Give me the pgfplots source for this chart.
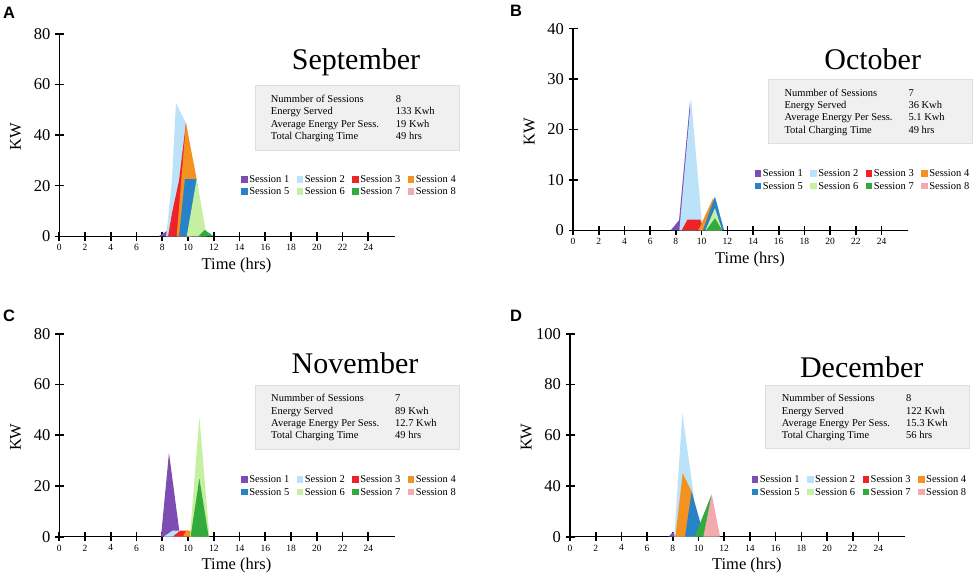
\documentclass[border=0pt]{standalone}
\usepackage{pgfplots}
\pgfplotsset{compat=1.18}
\usepackage{fontspec}
\setmainfont{Liberation Serif}
\newfontfamily\sansfont{Liberation Sans}
\definecolor{s1}{RGB}{124,77,178}
\definecolor{s2}{RGB}{187,226,248}
\definecolor{s3}{RGB}{236,36,42}
\definecolor{s4}{RGB}{245,145,30}
\definecolor{s5}{RGB}{40,130,200}
\definecolor{s6}{RGB}{196,240,160}
\definecolor{s7}{RGB}{50,170,60}
\definecolor{s8}{RGB}{242,170,175}
\definecolor{boxgray}{RGB}{240,240,240}
\definecolor{boxline}{RGB}{222,222,222}
\newcommand\statfont{\fontsize{10.5}{12.3}\selectfont}
\pgfplotsset{
  panel/.style={
    scale only axis, width=335.6pt, height=202.6pt,
    xmin=0, xmax=26.07, ymin=0,
    axis lines*=left,
    axis line style={line width=1.2pt, black},
    xtick={0,2,...,24},
    tick align=center,
    tickwidth=9pt,
    major tick length=9pt,
    xtick style={line width=1.6pt, black},
    ytick style={line width=1.6pt, black},
    xtick pos=left, ytick pos=left,
    /pgf/number format/assume math mode=true,
    xticklabel style={font=\fontsize{9.5}{10}\selectfont},
    yticklabel style={font=\fontsize{16.5}{17}\selectfont, xshift=-1pt},
    xlabel={Time (hrs)}, ylabel={KW},
    label style={font=\fontsize{16.5}{18}\selectfont},
    xlabel style={at={(axis description cs:0.528,-0.143)}, anchor=center},
    ylabel style={at={(axis description cs:-0.13,0.49)}, anchor=center},
    legend columns=4,
    legend cell align=left,
    legend style={at={(axis description cs:0.542,0.307)}, anchor=north west,
      draw=none, fill=none, inner sep=0pt,
      font=\fontsize{10.5}{10.5}\selectfont,
      nodes={inner sep=1pt},
      /tikz/every odd column/.append style={column sep=0.5pt},
      /tikz/every even column/.append style={column sep=6.5pt},
      row sep=2pt},
    legend image code/.code={\fill[##1] (0pt,-3pt) rectangle (6.5pt,3.5pt);},
    no markers,
  }
}
\begin{document}
\begin{tikzpicture}
\useasboundingbox (0,0) rectangle (976pt,579pt);

% ---------------- A: September
\begin{axis}[panel, at={(59.3pt,342.7pt)}, anchor=south west,
  ymax=80, ytick={0,20,...,80}]
\addplot[fill=s1, draw=none] coordinates {(7.7,0) (8.5,2.5) (8.9,0)};
\addlegendentry{Session 1}
\addplot[fill=s2, draw=none] coordinates {(8.3,0) (8.75,22) (9.06,52.7) (9.85,44.6) (10.3,0)};
\addlegendentry{Session 2}
\addplot[fill=s3, draw=none] coordinates {(8.45,0) (8.75,9) (9.3,22) (9.84,44.8) (10.2,0)};
\addlegendentry{Session 3}
\addplot[fill=s4, draw=none] coordinates {(9.12,0) (9.84,44.8) (10.67,22.6) (11.0,0)};
\addlegendentry{Session 4}
\addplot[fill=s5, draw=none] coordinates {(9.3,0) (9.76,22.6) (10.67,22.6) (11.0,0)};
\addlegendentry{Session 5}
\addplot[fill=s6, draw=none] coordinates {(9.9,0) (10.67,22.6) (11.45,0)};
\addlegendentry{Session 6}
\addplot[fill=s7, draw=none] coordinates {(10.8,0) (11.3,2.5) (12.0,0)};
\addlegendentry{Session 7}
\addlegendimage{fill=s8, draw=none}
\addlegendentry{Session 8}
\end{axis}

% ---------------- B: October
\begin{axis}[panel, at={(573pt,348.7pt)}, anchor=south west, width=335.2pt, height=201.6pt,
  ymax=40, ytick={0,10,...,40}]
\addplot[fill=s1, draw=none] coordinates {(7.6,0) (8.25,2) (9.1,25.5) (9.5,0)};
\addlegendentry{Session 1}
\addplot[fill=s2, draw=none] coordinates {(8.27,0) (9.18,26.2) (10.08,0)};
\addlegendentry{Session 2}
\addplot[fill=s3, draw=none] coordinates {(8.45,0) (8.9,2.1) (9.9,2.1) (10.2,0)};
\addlegendentry{Session 3}
\addplot[fill=s4, draw=none] coordinates {(9.75,0) (10.9,6.4) (11.4,0)};
\addlegendentry{Session 4}
\addplot[fill=s5, draw=none] coordinates {(10.1,0) (11.04,6.7) (11.75,0)};
\addlegendentry{Session 5}
\addplot[fill=s6, draw=none] coordinates {(10.3,0) (11.04,4.4) (11.6,0)};
\addlegendentry{Session 6}
\addplot[fill=s7, draw=none] coordinates {(10.35,0) (11.04,2.4) (11.6,0)};
\addlegendentry{Session 7}
\addlegendimage{fill=s8, draw=none}
\addlegendentry{Session 8}
\end{axis}

% ---------------- C: November
\begin{axis}[panel, at={(59.3pt,42.3pt)}, anchor=south west, height=203pt,
  ymax=80, ytick={0,20,...,80}]
\addplot[fill=s1, draw=none] coordinates {(7.9,0) (8.52,33.1) (9.38,0)};
\addlegendentry{Session 1}
\addplot[fill=s2, draw=none] coordinates {(8.1,0) (8.8,2.4) (9.3,2.4) (9.6,0)};
\addlegendentry{Session 2}
\addplot[fill=s3, draw=none] coordinates {(8.8,0) (9.4,2.4) (10.0,2.4) (10.25,0)};
\addlegendentry{Session 3}
\addplot[fill=s4, draw=none] coordinates {(9.6,0) (9.85,2.4) (10.2,2.4) (10.4,0)};
\addlegendentry{Session 4}
\addlegendimage{fill=s5, draw=none}
\addlegendentry{Session 5}
\addplot[fill=s6, draw=none] coordinates {(10.15,0) (10.88,47.3) (11.66,0)};
\addlegendentry{Session 6}
\addplot[fill=s7, draw=none] coordinates {(10.2,0) (10.88,23) (11.6,0)};
\addlegendentry{Session 7}
\addlegendimage{fill=s8, draw=none}
\addlegendentry{Session 8}
\end{axis}

% ---------------- D: December
\begin{axis}[panel, at={(570pt,42.3pt)}, anchor=south west, width=335pt, height=203pt,
  ymax=100, ytick={0,25,50,75,100}, yticklabels={0,40,60,80,100}]
\addplot[fill=s1, draw=none] coordinates {(7.65,0) (8.05,2.5) (8.2,0)};
\addlegendentry{Session 1}
\addplot[fill=s2, draw=none] coordinates {(8.12,0) (8.74,60.8) (9.6,22) (9.9,0)};
\addlegendentry{Session 2}
\addlegendimage{fill=s3, draw=none}
\addlegendentry{Session 3}
\addplot[fill=s4, draw=none] coordinates {(8.2,0) (8.77,31.2) (9.47,22.2) (9.9,0)};
\addlegendentry{Session 4}
\addplot[fill=s5, draw=none] coordinates {(8.95,0) (9.47,22.2) (10.3,3.3) (10.4,0)};
\addlegendentry{Session 5}
\addlegendimage{fill=s6, draw=none}
\addlegendentry{Session 6}
\addplot[fill=s7, draw=none] coordinates {(9.7,0) (11.0,20.5) (11.5,0)};
\addlegendentry{Session 7}
\addplot[fill=s8, draw=none] coordinates {(10.38,0) (11.03,21) (11.68,0)};
\addlegendentry{Session 8}
\end{axis}

% ---------------- titles
\node[anchor=base, inner sep=0pt, font=\fontsize{30}{30}\selectfont] at (356pt,509pt) {September};
\node[anchor=base, inner sep=0pt, font=\fontsize{30}{30}\selectfont] at (872.7pt,509pt) {October};
\node[anchor=base, inner sep=0pt, font=\fontsize{30}{30}\selectfont] at (355pt,205.7pt) {November};
\node[anchor=base, inner sep=0pt, font=\fontsize{30}{30}\selectfont] at (861.7pt,201.7pt) {December};

% ---------------- stats boxes
\draw[boxline, fill=boxgray, line width=0.8pt] (255pt,494pt) rectangle (459pt,429pt);
\node[anchor=base west, inner sep=0pt] at (270.7pt,476.5pt) {\statfont\begin{tabular}[t]{@{}p{125pt}@{}l@{}}Nummber of Sessions & 8\\ Energy Served & 133 Kwh\\ Average Energy Per Sess. & 19 Kwh\\ Total Charging Time & 49 hrs\end{tabular}};

\draw[boxline, fill=boxgray, line width=0.8pt] (768pt,499.7pt) rectangle (972pt,435.7pt);
\node[anchor=base west, inner sep=0pt] at (784.3pt,482.8pt) {\statfont\begin{tabular}[t]{@{}p{124pt}@{}l@{}}Nummber of Sessions & 7\\ Energy Served & 36 Kwh\\ Average Energy Per Sess. & 5.1 Kwh\\ Total Charging Time & 49 hrs\end{tabular}};

\draw[boxline, fill=boxgray, line width=0.8pt] (255pt,193.3pt) rectangle (459pt,130pt);
\node[anchor=base west, inner sep=0pt] at (271pt,177.2pt) {\statfont\begin{tabular}[t]{@{}p{124pt}@{}l@{}}Nummber of Sessions & 7\\ Energy Served & 89 Kwh\\ Average Energy Per Sess. & 12.7 Kwh\\ Total Charging Time & 49 hrs\end{tabular}};

\draw[boxline, fill=boxgray, line width=0.8pt] (765pt,194pt) rectangle (969pt,131pt);
\node[anchor=base west, inner sep=0pt] at (781.7pt,177.2pt) {\statfont\begin{tabular}[t]{@{}p{124.3pt}@{}l@{}}Nummber of Sessions & 8\\ Energy Served & 122 Kwh\\ Average Energy Per Sess. & 15.3 Kwh\\ Total Charging Time & 56 hrs\end{tabular}};

% ---------------- panel letters
\node[anchor=base west, inner sep=0pt, font=\sansfont\bfseries\fontsize{16.5}{16.5}\selectfont] at (3pt,560.7pt) {A};
\node[anchor=base west, inner sep=0pt, font=\sansfont\bfseries\fontsize{16.5}{16.5}\selectfont] at (510pt,562.3pt) {B};
\node[anchor=base west, inner sep=0pt, font=\sansfont\bfseries\fontsize{16.5}{16.5}\selectfont] at (3pt,257.3pt) {C};
\node[anchor=base west, inner sep=0pt, font=\sansfont\bfseries\fontsize{16.5}{16.5}\selectfont] at (510pt,257.3pt) {D};
\end{tikzpicture}
\end{document}
